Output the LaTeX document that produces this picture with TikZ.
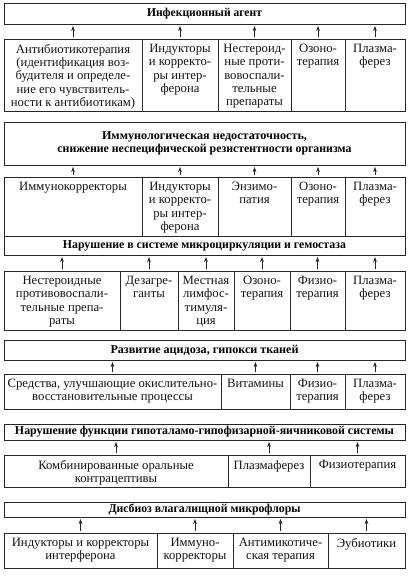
\documentclass[tikz,border=0pt]{standalone}
\usepackage{fontspec}
\usepackage{graphicx}
\setmainfont{Liberation Serif}
\usetikzlibrary{arrows.meta}
\tikzset{
  cellframe/.style={draw=black!85, line width=0.7pt, inner sep=0pt, outer sep=0pt},
  celltext/.style={align=center, inner xsep=1pt, inner ysep=5pt, text=black!92,
    font=\fontsize{12.7}{13.3}\selectfont},
  headtext/.style={align=center, inner sep=0pt, text=black,
    font=\fontsize{12}{13.2}\selectfont\bfseries},
  arr/.style={-{Stealth[length=5pt,width=3.6pt]}, line width=0.6pt, draw=black!85,
    shorten <=2pt, shorten >=2pt},
}
\newcommand\hw[2]{\resizebox{#1pt}{\height}{#2}}
\newcommand\cellbox[6]{%
  \node[cellframe, minimum width={(#4)-(#2)}, minimum height={(#5)-(#3)}]
    (#1) at ({((#2)+(#4))/2},{((#3)+(#5))/2}) {};
  \node[celltext, anchor=north] (#1t) at (#1.north) {#6};
}
\newcommand\headbox[4]{%
  \node[cellframe, minimum width={405-4}, minimum height={(#3)-(#2)}]
    (#1) at (204.5,{((#2)+(#3))/2}) {};
  \node[headtext] (#1t) at (#1.center) {#4};
}
\newcommand\uparr[2]{\draw[arr] (#1.north) -- (#1.north |- #2.south);}
\begin{document}
\begin{tikzpicture}[x=1pt,y=-1pt]
\useasboundingbox (0,0) rectangle (409,577);
\fill[white] (0,0) rectangle (409,577);

% ---- Section 1
\headbox{h1}{3}{24}{\hw{115}{Инфекционный агент}}
\cellbox{a1}{4}{39}{142}{111}{Антибиотикотерапия\\(идентификация воз-\\будителя и определе-\\ние его чувствитель-\\ности к антибиотикам)}
\cellbox{a2}{142}{39}{218}{111}{Индукторы\\и корректо-\\ры интер-\\ферона}
\cellbox{a3}{218}{39}{291}{111}{Нестероид-\\ные проти-\\вовоспали-\\тельные\\препараты}
\cellbox{a4}{291}{39}{345}{111}{Озоно-\\терапия}
\cellbox{a5}{345}{39}{405}{111}{Плазма-\\ферез}
\foreach \c in {a1,a2,a3,a4,a5} {\uparr{\c}{h1}}

% ---- Section 2
\headbox{h2}{122}{165}{\hw{205}{Иммунологическая недостаточность,}\\\hw{294}{снижение неспецифической резистентности организма}}
\cellbox{b1}{4}{177}{142}{236}{Иммунокорректоры}
\cellbox{b2}{142}{177}{218}{236}{Индукторы\\и корректо-\\ры интер-\\ферона}
\cellbox{b3}{218}{177}{291}{236}{Энзимо-\\патия}
\cellbox{b4}{291}{177}{345}{236}{Озоно-\\терапия}
\cellbox{b5}{345}{177}{405}{236}{Плазма-\\ферез}
\foreach \c in {b1,b2,b3,b4,b5} {\uparr{\c}{h2}}

% ---- Section 3
\headbox{h3}{236}{255}{\hw{283}{Нарушение в системе микроциркуляции и гемостаза}}
\cellbox{c1}{4}{271}{120}{330}{Нестероидные\\противовоспали-\\тельные препа-\\раты}
\cellbox{c2}{120}{271}{178}{330}{Дезагре-\\ганты}
\cellbox{c3}{178}{271}{234}{330}{Местная\\лимфос-\\тимуля-\\ция}
\cellbox{c4}{234}{271}{290}{330}{Озоно-\\терапия}
\cellbox{c5}{290}{271}{345}{330}{Физио-\\терапия}
\cellbox{c6}{345}{271}{405}{330}{Плазма-\\ферез}
\foreach \c in {c1,c2,c3,c4,c5,c6} {\uparr{\c}{h3}}

% ---- Section 4
\headbox{h4}{340}{360}{\hw{188}{Развитие ацидоза, гипокси тканей}}
\cellbox{d1}{4}{374}{221}{409}{Средства, улучшающие окислительно-\\восстановительные процессы}
\cellbox{d2}{221}{374}{290}{409}{Витамины}
\cellbox{d3}{290}{374}{345}{409}{Физио-\\терапия}
\cellbox{d4}{345}{374}{405}{409}{Плазма-\\ферез}
\foreach \c in {d1,d2,d3,d4} {\uparr{\c}{h4}}

% ---- Section 5
\headbox{h5}{424}{440}{\hw{379}{Нарушение функции гипоталамо-гипофизарной-яичниковой системы}}
\cellbox{e1}{4}{455}{228}{487}{Комбинированные оральные\\контрацептивы}
\cellbox{e2}{228}{455}{310}{487}{Плазмаферез}
\cellbox{e3}{310}{455}{405}{487}{Физиотерапия}
\foreach \c in {e1,e2,e3} {\uparr{\c}{h5}}

% ---- Section 6
\headbox{h6}{502}{517}{\hw{192}{Дисбиоз влагалищной микрофлоры}}
\cellbox{f1}{4}{533}{157}{568}{Индукторы и корректоры\\интерферона}
\cellbox{f2}{157}{533}{233}{568}{Иммуно-\\корректоры}
\cellbox{f3}{233}{533}{328}{568}{Антимикотиче-\\ская терапия}
\cellbox{f4}{328}{533}{405}{568}{Эубиотики}
\foreach \c in {f1,f2,f3,f4} {\uparr{\c}{h6}}
\end{tikzpicture}
\end{document}
